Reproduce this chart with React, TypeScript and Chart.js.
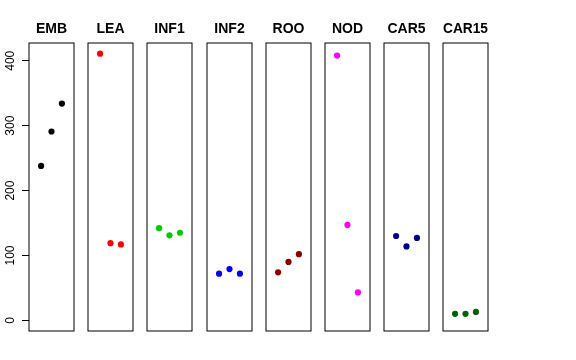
import React, { useEffect, useRef } from "react";
import { Chart, registerables } from "chart.js";

Chart.register(...registerables);

const categories = ["EMB", "LEA", "INF1", "INF2", "ROO", "NOD", "CAR5", "CAR15"];
const replicates = [1, 2, 3];
const embValues = [238, 291, 334];
const leaValues = [411, 119, 117];
const inf1Values = [142, 131, 135];
const inf2Values = [72, 79, 72];
const rooValues = [74, 90, 102];
const nodValues = [408, 147, 43];
const car5Values = [130, 114, 127];
const car15Values = [10, 10, 13];
const seriesValues = [embValues, leaValues, inf1Values, inf2Values, rooValues, nodValues, car5Values, car15Values];
const seriesColors = ["#000000", "#FF0000", "#00CD00", "#0000FF", "#8B0000", "#FF00FF", "#00008B", "#006400"];
const yTicks = [0, 100, 200, 300, 400];
const yMin = -16.4;
const yMax = 427.4;
const xMin = -0.16;
const xMax = 4.16;

const FONT = "'Liberation Sans', Arial, Helvetica, sans-serif";
const BOX_LEFT0 = 29;
const BOX_STEP = 59.2;
const BOX_W = 45;
const SIDE_PAD = 8;
const AXIS_W = 29;

const boxPlugin = {
  id: "panelBox",
  afterDraw(chart: any) {
    const { ctx, chartArea } = chart;
    ctx.save();
    ctx.strokeStyle = "#000000";
    ctx.lineWidth = 1;
    ctx.strokeRect(chartArea.left, chartArea.top, chartArea.right - chartArea.left, chartArea.bottom - chartArea.top);
    ctx.restore();
  },
};

function panelLayout(i: number) {
  if (i === 0) {
    return { left: 0, width: AXIS_W + BOX_W + SIDE_PAD, padLeft: 0 };
  }
  const boxLeft = Math.round(BOX_LEFT0 + i * BOX_STEP);
  return { left: boxLeft - SIDE_PAD, width: BOX_W + 2 * SIDE_PAD, padLeft: SIDE_PAD };
}

export default function App() {
  const refs = useRef<(HTMLCanvasElement | null)[]>([]);

  useEffect(() => {
    const charts: Chart[] = [];
    categories.forEach((cat, i) => {
      const canvas = refs.current[i];
      if (!canvas) return;
      const lay = panelLayout(i);
      const vals = seriesValues[i];
      const yScale: any = {
        type: "linear",
        min: yMin,
        max: yMax,
        display: i === 0,
        afterBuildTicks: (scale: any) => {
          scale.ticks = yTicks.map((v) => ({ value: v }));
        },
        grid: {
          drawOnChartArea: false,
          drawTicks: true,
          tickLength: 7,
          color: "#000000",
        },
        border: { display: false },
        ticks: {
          minRotation: 90,
          maxRotation: 90,
          crossAlign: "center",
          padding: 1,
          color: "#000000",
          font: { family: FONT, size: 12 },
        },
      };
      if (i === 0) {
        yScale.afterFit = (scale: any) => {
          scale.width = AXIS_W;
        };
      }
      const chart = new Chart(canvas, {
        type: "scatter",
        data: {
          datasets: [
            {
              data: replicates.map((r, k) => ({ x: r, y: vals[k] })),
              backgroundColor: seriesColors[i],
              borderWidth: 0,
              pointRadius: 3.1,
            },
          ],
        },
        options: {
          animation: false,
          responsive: false,
          devicePixelRatio: 1,
          layout: { padding: { left: lay.padLeft, right: SIDE_PAD, top: 0, bottom: 29 } },
          plugins: {
            legend: { display: false },
            tooltip: { enabled: false },
            title: {
              display: true,
              text: cat,
              fullSize: false,
              color: "#000000",
              font: { family: FONT, size: 14, weight: "bold", lineHeight: 1.2 },
              padding: { top: 21, bottom: 43 - 21 - 16.8 },
            },
          },
          scales: {
            x: { type: "linear", min: xMin, max: xMax, display: false },
            y: yScale,
          },
        },
        plugins: [boxPlugin],
      } as any);
      charts.push(chart);
    });
    return () => charts.forEach((c) => c.destroy());
  }, []);

  return (
    <div style={{ position: "fixed", left: 0, top: 0, width: 576, height: 360, background: "#ffffff" }}>
      {categories.map((cat, i) => {
        const lay = panelLayout(i);
        return (
          <canvas
            key={cat}
            ref={(el) => {
              refs.current[i] = el;
            }}
            width={lay.width}
            height={360}
            style={{ position: "absolute", left: lay.left, top: 0, width: lay.width, height: 360 }}
          />
        );
      })}
    </div>
  );
}
